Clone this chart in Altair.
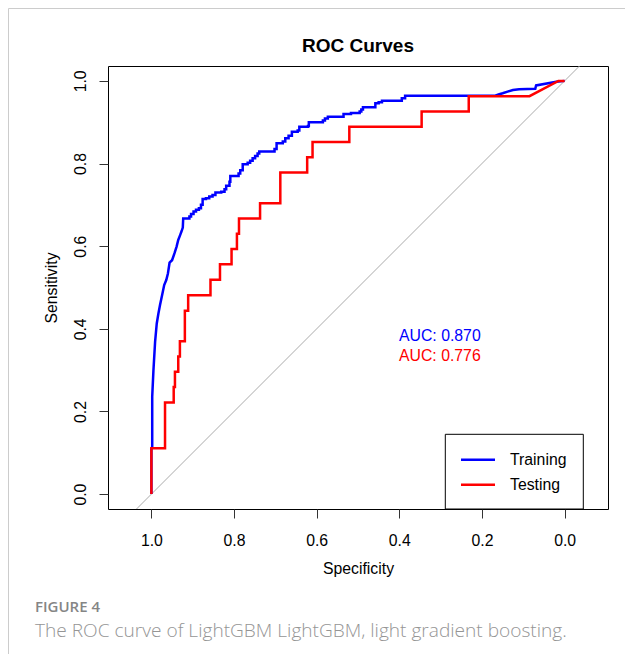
import altair as alt
import pandas as pd

# ---- data ----
train_spec = [1.000, 1.000, 0.998, 0.998, 0.995, 0.991, 0.987, 0.983, 0.979, 0.974, 0.969, 0.964,
              0.960, 0.956, 0.950, 0.944, 0.939, 0.935, 0.930, 0.927, 0.924, 0.923, 0.908, 0.908,
              0.904, 0.904, 0.898, 0.898, 0.892, 0.892, 0.885, 0.885, 0.880, 0.880, 0.876, 0.876,
              0.868, 0.868, 0.860, 0.860, 0.852, 0.852, 0.845, 0.845, 0.831, 0.831, 0.823, 0.823,
              0.819, 0.819, 0.811, 0.811, 0.809, 0.809, 0.789, 0.789, 0.785, 0.785, 0.779, 0.779,
              0.767, 0.767, 0.761, 0.761, 0.755, 0.755, 0.749, 0.749, 0.743, 0.743, 0.739, 0.739,
              0.702, 0.702, 0.697, 0.697, 0.682, 0.682, 0.676, 0.676, 0.668, 0.668, 0.660, 0.660,
              0.646, 0.646, 0.642, 0.642, 0.621, 0.621, 0.619, 0.619, 0.585, 0.585, 0.580, 0.580,
              0.573, 0.573, 0.535, 0.535, 0.517, 0.517, 0.496, 0.496, 0.492, 0.492, 0.488, 0.488,
              0.458, 0.458, 0.450, 0.450, 0.442, 0.442, 0.394, 0.394, 0.386, 0.386, 0.168, 0.160,
              0.150, 0.138, 0.125, 0.110, 0.071, 0.069, 0.020, 0.000]
train_sens = [0.000, 0.110, 0.115, 0.236, 0.300, 0.369, 0.413, 0.437, 0.458, 0.482, 0.506, 0.518,
              0.534, 0.560, 0.566, 0.583, 0.599, 0.615, 0.628, 0.636, 0.645, 0.667, 0.667, 0.672,
              0.672, 0.678, 0.678, 0.684, 0.684, 0.688, 0.688, 0.692, 0.692, 0.700, 0.700, 0.714,
              0.714, 0.716, 0.716, 0.720, 0.720, 0.724, 0.724, 0.730, 0.730, 0.732, 0.732, 0.738,
              0.738, 0.746, 0.746, 0.756, 0.756, 0.770, 0.770, 0.776, 0.776, 0.784, 0.784, 0.798,
              0.798, 0.802, 0.802, 0.807, 0.807, 0.813, 0.813, 0.818, 0.818, 0.824, 0.824, 0.829,
              0.829, 0.835, 0.835, 0.849, 0.849, 0.853, 0.853, 0.861, 0.861, 0.867, 0.867, 0.877,
              0.877, 0.880, 0.880, 0.889, 0.889, 0.891, 0.891, 0.900, 0.900, 0.904, 0.904, 0.909,
              0.909, 0.913, 0.913, 0.920, 0.920, 0.922, 0.922, 0.926, 0.926, 0.931, 0.931, 0.936,
              0.936, 0.946, 0.946, 0.948, 0.948, 0.952, 0.952, 0.958, 0.958, 0.964, 0.964, 0.967,
              0.970, 0.974, 0.978, 0.980, 0.981, 0.989, 0.998, 1.000]

test_spec = [1.000, 1.000, 0.967, 0.967, 0.946, 0.946, 0.943, 0.943, 0.935, 0.935, 0.931, 0.931,
             0.919, 0.919, 0.911, 0.911, 0.857, 0.857, 0.834, 0.834, 0.806, 0.806, 0.793, 0.793,
             0.788, 0.788, 0.737, 0.737, 0.688, 0.688, 0.623, 0.623, 0.610, 0.610, 0.521, 0.521,
             0.346, 0.346, 0.232, 0.232, 0.085, 0.015, 0.000]
test_sens = [0.000, 0.111, 0.111, 0.222, 0.222, 0.259, 0.259, 0.296, 0.296, 0.333, 0.333, 0.370,
             0.370, 0.444, 0.444, 0.481, 0.481, 0.519, 0.519, 0.556, 0.556, 0.593, 0.593, 0.630,
             0.630, 0.667, 0.667, 0.704, 0.704, 0.778, 0.778, 0.815, 0.815, 0.852, 0.852, 0.889,
             0.889, 0.926, 0.926, 0.963, 0.963, 1.000, 1.000]

diag_spec = [1.2, -0.2]
diag_sens = [-0.2, 1.2]

series_names = ["Training", "Testing"]
series_colors = ["#0000ff", "#ff0000"]
auc_labels = ["AUC: 0.870", "AUC: 0.776"]
tick_values = [0.0, 0.2, 0.4, 0.6, 0.8, 1.0]
chart_title = "ROC Curves"
x_title = "Specificity"
y_title = "Sensitivity"
figure_label = "FIGURE 4"
figure_caption = "The ROC curve of LightGBM LightGBM, light gradient boosting."

FONT = "Liberation Sans"
FS = 15.8

train_df = pd.DataFrame({"spec": train_spec, "sens": train_sens,
                         "idx": list(range(len(train_spec))), "set": series_names[0]})
test_df = pd.DataFrame({"spec": test_spec, "sens": test_sens,
                        "idx": list(range(len(test_spec))), "set": series_names[1]})
diag_df = pd.DataFrame({"spec": diag_spec, "sens": diag_sens, "idx": [0, 1]})

x_scale = alt.Scale(domain=[-0.105, 1.105], reverse=True, nice=False, zero=False)
y_scale = alt.Scale(domain=[-0.036, 1.036], nice=False, zero=False)
color_scale = alt.Scale(domain=series_names, range=series_colors)

x_axis = alt.Axis(values=tick_values, format=".1f", tickSize=9, tickColor="#333333",
                  domain=False, grid=False, labelPadding=27, labelBaseline="alphabetic",
                  labelFont=FONT, labelFontSize=FS, labelColor="black", labelFlush=False,
                  labelOverlap=False, title=x_title, titleX=250, titleY=64.5,
                  titleBaseline="alphabetic", titleAlign="center", titleFont=FONT,
                  titleFontSize=FS, titleFontWeight="normal", titleColor="black")
y_axis = alt.Axis(values=tick_values, format=".1f", tickSize=9, tickColor="#333333",
                  domain=False, grid=False, labelPadding=14, labelAngle=270,
                  labelAlign="center", labelBaseline="alphabetic",
                  labelFont=FONT, labelFontSize=FS, labelColor="black", labelFlush=False,
                  labelOverlap=False, title=y_title, titleX=-51.5, titleY=221.5,
                  titleAngle=270, titleBaseline="alphabetic", titleAlign="center",
                  titleFont=FONT, titleFontSize=FS, titleFontWeight="normal", titleColor="black")

x_enc = alt.X("spec:Q", scale=x_scale, axis=x_axis)
y_enc = alt.Y("sens:Q", scale=y_scale, axis=y_axis)

diag = alt.Chart(diag_df).mark_line(color="#aaaaaa", strokeWidth=1, clip=True).encode(
    x=x_enc, y=y_enc, order="idx:Q")

train_line = alt.Chart(train_df).mark_line(strokeWidth=2.5, clip=True).encode(
    x=x_enc, y=y_enc, order="idx:Q",
    color=alt.Color("set:N", scale=color_scale, legend=None))
test_line = alt.Chart(test_df).mark_line(strokeWidth=2.5, clip=True).encode(
    x=x_enc, y=y_enc, order="idx:Q",
    color=alt.Color("set:N", scale=color_scale, legend=None))


def text_layer(txt, x, y, size=FS, color="black", weight="normal", font=FONT, align="left"):
    return alt.Chart(pd.DataFrame({"t": [txt]})).mark_text(
        align=align, baseline="alphabetic", font=font, fontSize=size,
        fontWeight=weight, color=color).encode(
        text="t:N", x=alt.value(x), y=alt.value(y))


title_t = text_layer(chart_title, 250, -13.7, size=19, weight="bold", align="center")
auc1 = text_layer(auc_labels[0], 291, 274.7, color=series_colors[0])
auc2 = text_layer(auc_labels[1], 291, 295, color=series_colors[1])

# legend (box, line keys, labels)
one = pd.DataFrame({"a": [0]})
leg_box = alt.Chart(one).mark_rect(fill="white", stroke="black", strokeWidth=1).encode(
    x=alt.value(337.3), x2=alt.value(475.3), y=alt.value(368.3), y2=alt.value(443))
leg_l1 = alt.Chart(one).mark_rule(color=series_colors[0], strokeWidth=2.5).encode(
    x=alt.value(353), x2=alt.value(387), y=alt.value(393.7))
leg_l2 = alt.Chart(one).mark_rule(color=series_colors[1], strokeWidth=2.5).encode(
    x=alt.value(353), x2=alt.value(387), y=alt.value(418.7))
leg_t1 = text_layer(series_names[0], 402, 399.4)
leg_t2 = text_layer(series_names[1], 402, 424.4)

# page decoration and caption
border_top = alt.Chart(one).mark_rule(color="#cccccc", strokeWidth=1).encode(
    x=alt.value(-99.5), x2=alt.value(517), y=alt.value(-57.5))
border_left = alt.Chart(one).mark_rule(color="#cccccc", strokeWidth=1).encode(
    x=alt.value(-99.5), y=alt.value(-57.5), y2=alt.value(588))
fig_lab = text_layer(figure_label, -73, 546.3, size=15, color="#858585", weight=600,
                     font="Open Sans")
fig_cap = text_layer(figure_caption, -73, 570.5, size=19.1, color="#959595",
                     font="Open Sans", weight=300)

chart = alt.layer(
    diag, train_line, test_line, title_t, auc1, auc2,
    leg_box, leg_l1, leg_l2, leg_t1, leg_t2,
    border_top, border_left, fig_lab, fig_cap
).properties(
    width=500, height=443,
    autosize=alt.AutoSizeParams(type="none"),
    padding={"left": 100, "top": 58, "right": 17, "bottom": 145},
    background="white",
).configure_view(stroke="black", strokeWidth=1)

chart.save("out.html", embed_options={"renderer": "svg", "actions": False})
